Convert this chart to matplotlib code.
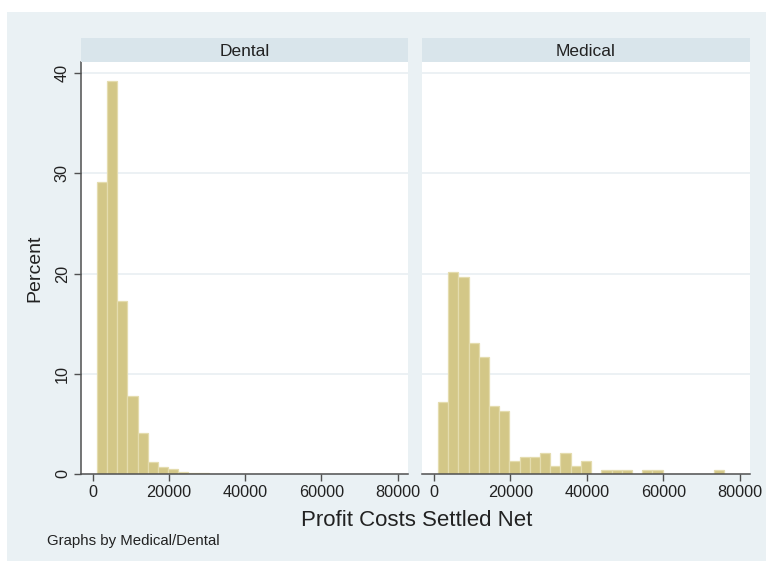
import numpy as np
import matplotlib
matplotlib.use("Agg")
import matplotlib.pyplot as plt
from matplotlib.patches import Rectangle

plt.rcParams['font.family'] = ['Liberation Sans', 'DejaVu Sans']

# Histogram bins shared by both panels (Profit Costs Settled Net)
bin_start = 1050
bin_end = 75870
n_bins = 28

panel_titles = ["Dental", "Medical"]

dental_pct = [29.1, 39.2, 17.3, 7.8, 4.05, 1.16, 0.70, 0.46, 0.17, 0.07, 0.13,
              0, 0, 0, 0, 0, 0, 0, 0, 0, 0, 0, 0, 0, 0, 0, 0, 0]
medical_pct = [7.2, 20.2, 19.7, 13.1, 11.7, 6.8, 6.3, 1.25, 1.7, 1.7, 2.1, 0.83,
               2.1, 0.83, 1.3, 0, 0.42, 0.42, 0.42, 0, 0.42, 0.42, 0, 0, 0, 0, 0, 0.42]

x_ticks = [0, 20000, 40000, 60000, 80000]
y_ticks = [0, 10, 20, 30, 40]

W, H = 766, 561
BG = '#EAF1F4'
STRIP = '#D9E5EB'
GRID = '#E9EFF2'
BAR = '#D3C787'
BAR_EDGE = '#E4DCAE'
AXIS = '#505050'
TXT = '#222222'

fig = plt.figure(figsize=(W / 100, H / 100), dpi=100, facecolor='white')

# graph region background
fig.patches.append(Rectangle((7 / W, 0), 1 - 7 / W, 1 - 12 / H,
                             transform=fig.transFigure, facecolor=BG,
                             edgecolor='none', zorder=-10))

edges = np.linspace(bin_start, bin_end, n_bins + 1)
width = edges[1] - edges[0]

def fx(px):
    return px / W

def fy(py):
    return 1 - py / H

panels = [(81, 408, dental_pct), (422, 750, medical_pct)]
top_px, bot_px, strip_top = 62, 474, 38

for i, (x0, x1, vals) in enumerate(panels):
    ax = fig.add_axes([fx(x0), fy(bot_px), fx(x1 - x0), (bot_px - top_px) / H])
    ax.set_facecolor('white')
    ax.bar(edges[:-1], vals, width=width, align='edge', color=BAR,
           edgecolor=BAR_EDGE, linewidth=0.9, zorder=3)
    ax.set_xlim(-3100, 82700)
    ax.set_ylim(0, 41.1)
    for yv in y_ticks[1:]:
        ax.axhline(yv, color=GRID, linewidth=1.2, zorder=1)
    for s in ['top', 'right']:
        ax.spines[s].set_visible(False)
    ax.spines['bottom'].set_color(AXIS)
    ax.spines['bottom'].set_linewidth(1.1)
    ax.spines['bottom'].set_zorder(5)
    ax.set_xticks(x_ticks)
    ax.set_xticklabels([str(t) for t in x_ticks])
    ax.tick_params(axis='x', length=5, width=1, color=AXIS, labelsize=11.7,
                   labelcolor=TXT, pad=3)
    if i == 0:
        ax.spines['left'].set_color(AXIS)
        ax.spines['left'].set_linewidth(1.1)
        ax.set_yticks(y_ticks)
        ax.set_yticklabels([str(t) for t in y_ticks], rotation=90, va='center')
        ax.tick_params(axis='y', length=5, width=1, color=AXIS, labelsize=11.7,
                       labelcolor=TXT, pad=3)
    else:
        ax.spines['left'].set_visible(False)
        ax.set_yticks([])
    # panel strip
    sax = fig.add_axes([fx(x0), fy(top_px), fx(x1 - x0), (top_px - strip_top) / H])
    sax.set_facecolor(STRIP)
    for s in sax.spines.values():
        s.set_visible(False)
    sax.set_xticks([])
    sax.set_yticks([])
    sax.text(0.5, 0.45, panel_titles[i], ha='center', va='center', fontsize=12.5,
             color=TXT, transform=sax.transAxes)

fig.text(fx(35), fy(268), "Percent", rotation=90, ha='center', va='center',
         fontsize=14, color=TXT)
fig.text(fx(417), fy(521), "Profit Costs Settled Net", ha='center', va='center',
         fontsize=16, color=TXT)
fig.text(fx(47), fy(541), "Graphs by Medical/Dental", ha='left', va='center',
         fontsize=10.8, color=TXT)

fig.savefig("out.png", dpi=100, facecolor='white')
